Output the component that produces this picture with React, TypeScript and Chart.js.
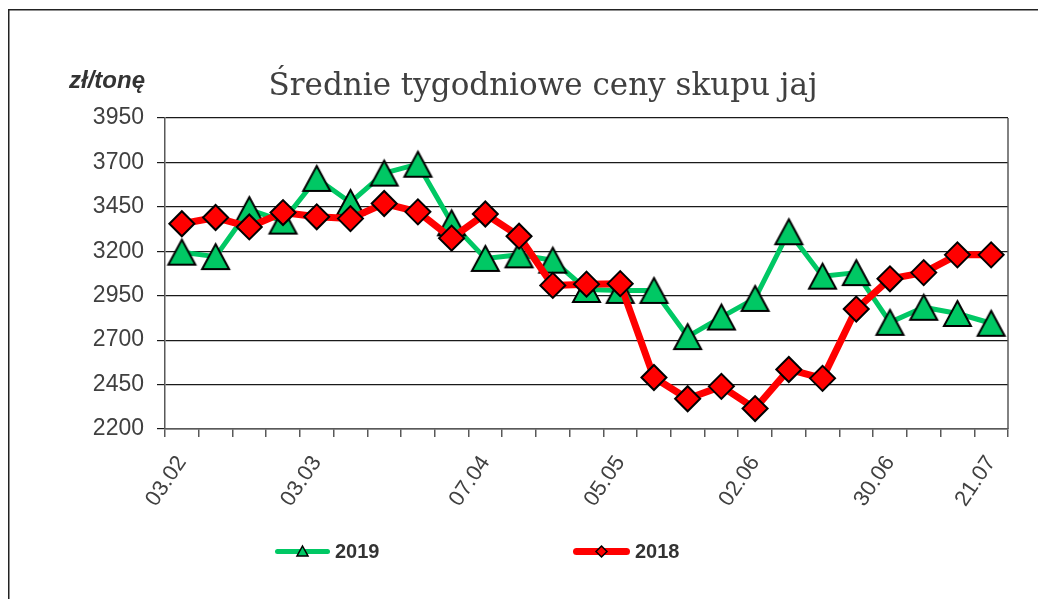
import React, { useEffect, useRef } from 'react';
import { Chart, registerables } from 'chart.js';

Chart.register(...registerables);

// ---- data ----
const categories = [
  '03.02', '10.02', '17.02', '24.02', '03.03', '10.03', '17.03', '24.03', '31.03',
  '07.04', '14.04', '21.04', '28.04', '05.05', '12.05', '19.05', '26.05', '02.06',
  '09.06', '16.06', '23.06', '30.06', '07.07', '14.07', '21.07',
];
const shownTickLabels = ['03.02', '03.03', '07.04', '05.05', '02.06', '30.06', '21.07'];
const values2019 = [
  3195, 3170, 3435, 3370, 3610, 3475, 3640, 3690, 3360, 3160, 3180, 3150, 2985,
  2980, 2980, 2720, 2830, 2935, 3310, 3060, 3080, 2800, 2885, 2850, 2795,
];
const values2018 = [
  3355, 3390, 3337, 3418, 3394, 3384, 3469, 3422, 3274, 3410, 3285, 3008, 3015,
  3018, 2490, 2370, 2440, 2315, 2535, 2485, 2875, 3045, 3080, 3180, 3180,
];
const yMin = 2200;
const yMax = 3950;
const yStep = 250;
const titleText = 'Średnie tygodniowe ceny skupu jaj';
const unitText = 'zł/tonę';
const seriesLabels = ['2019', '2018'];

const GREEN = '#00C864';
const RED = '#FF0000';
const SANS = "'Liberation Sans', Arial, sans-serif";

function makeTriangle(w: number, h: number, fill: string, lw: number) {
  const c = document.createElement('canvas');
  const pad = lw + 1;
  c.width = w + pad * 2;
  c.height = h + pad * 2;
  const ctx = c.getContext('2d')!;
  ctx.beginPath();
  ctx.moveTo(pad + w / 2, pad);
  ctx.lineTo(pad + w, pad + h);
  ctx.lineTo(pad, pad + h);
  ctx.closePath();
  ctx.fillStyle = fill;
  ctx.fill();
  ctx.lineWidth = lw;
  ctx.lineJoin = 'miter';
  ctx.strokeStyle = '#000';
  ctx.stroke();
  return c;
}

export default function App() {
  const ref = useRef<HTMLCanvasElement>(null);

  useEffect(() => {
    if (!ref.current) return;
    const tri = makeTriangle(27, 25, GREEN, 2);

    const decor = {
      id: 'decor',
      beforeDatasetsDraw(chart: any) {
        const { ctx, chartArea } = chart;
        ctx.save();
        ctx.strokeStyle = '#595959';
        ctx.lineWidth = 1.5;
        ctx.beginPath();
        ctx.moveTo(chartArea.right, chartArea.top);
        ctx.lineTo(chartArea.right, chartArea.bottom);
        ctx.stroke();
        ctx.restore();
      },
      afterDraw(chart: any) {
        const { ctx, width, height } = chart;
        ctx.save();
        // frame
        ctx.strokeStyle = '#222';
        ctx.lineWidth = 1.5;
        ctx.beginPath();
        ctx.moveTo(8.75, height);
        ctx.lineTo(8.75, 9.75);
        ctx.lineTo(width, 9.75);
        ctx.stroke();

        // title
        ctx.fillStyle = '#404040';
        ctx.font = "31px 'DejaVu Serif'";
        ctx.textAlign = 'center';
        ctx.textBaseline = 'alphabetic';
        ctx.fillText(titleText, 543, 95);

        // unit label
        ctx.fillStyle = '#333';
        ctx.font = `italic bold 24px ${SANS}`;
        ctx.textAlign = 'right';
        ctx.fillText(unitText, 145, 88);

        // legend
        const ly = 551.5;
        const items = [
          { x0: 275, x1: 330, color: GREEN, lw: 5, kind: 'tri', tx: 335 },
          { x0: 573, x1: 630, color: RED, lw: 7, kind: 'dia', tx: 635 },
        ];
        items.forEach((it, i) => {
          ctx.strokeStyle = it.color;
          ctx.lineWidth = it.lw;
          ctx.lineCap = 'round';
          ctx.beginPath();
          ctx.moveTo(it.x0 + it.lw / 2, ly);
          ctx.lineTo(it.x1 - it.lw / 2, ly);
          ctx.stroke();
          const cx = (it.x0 + it.x1) / 2;
          ctx.lineWidth = 1.5;
          ctx.strokeStyle = '#000';
          ctx.fillStyle = it.color;
          ctx.beginPath();
          if (it.kind === 'tri') {
            ctx.moveTo(cx, ly - 5.5);
            ctx.lineTo(cx + 5.5, ly + 4.5);
            ctx.lineTo(cx - 5.5, ly + 4.5);
          } else {
            ctx.moveTo(cx, ly - 5.5);
            ctx.lineTo(cx + 5.5, ly);
            ctx.lineTo(cx, ly + 5.5);
            ctx.lineTo(cx - 5.5, ly);
          }
          ctx.closePath();
          ctx.fill();
          ctx.stroke();
          ctx.fillStyle = '#333';
          ctx.font = `bold 20px ${SANS}`;
          ctx.textAlign = 'left';
          ctx.textBaseline = 'middle';
          ctx.fillText(seriesLabels[i], it.tx, ly + 1);
        });
        ctx.restore();
      },
    };

    const chart = new Chart(ref.current, {
      type: 'line',
      data: {
        labels: categories,
        datasets: [
          {
            label: seriesLabels[0],
            data: values2019,
            borderColor: GREEN,
            borderWidth: 5,
            backgroundColor: GREEN,
            pointStyle: tri as any,
            pointRadius: 14,
            pointHoverRadius: 14,
            borderJoinStyle: 'round',
            borderCapStyle: 'round',
            tension: 0,
            order: 1,
          },
          {
            label: seriesLabels[1],
            data: values2018,
            borderColor: RED,
            borderWidth: 7,
            backgroundColor: RED,
            pointStyle: 'rectRot',
            pointRadius: 12.5,
            pointHoverRadius: 12.5,
            pointBackgroundColor: RED,
            pointBorderColor: '#000',
            pointBorderWidth: 2,
            borderJoinStyle: 'round',
            borderCapStyle: 'round',
            tension: 0,
            order: 0,
          },
        ],
      },
      options: {
        responsive: true,
        maintainAspectRatio: false,
        animation: false,
        events: [],
        layout: { padding: { left: 0, top: 118, right: 30, bottom: 0 } },
        plugins: {
          legend: { display: false },
          title: { display: false },
          tooltip: { enabled: false },
        },
        scales: {
          x: {
            type: 'category',
            offset: true,
            grid: {
              display: true,
              offset: true,
              drawOnChartArea: false,
              drawTicks: true,
              tickLength: 8,
              color: '#595959',
              lineWidth: 1.5,
            },
            border: { display: true, color: '#595959', width: 1.5 },
            ticks: {
              autoSkip: false,
              minRotation: 56,
              maxRotation: 56,
              padding: 14,
              color: '#404040',
              font: { family: SANS, size: 22 },
              callback: (_v: any, i: number) =>
                shownTickLabels.includes(categories[i]) ? categories[i] : '',
            },
            afterFit: (s: any) => {
              s.height = 170;
            },
          },
          y: {
            min: yMin,
            max: yMax,
            ticks: {
              stepSize: yStep,
              padding: 13,
              color: '#404040',
              font: { family: SANS, size: 23 },
              callback: (v: any) => String(v),
            },
            grid: { color: '#1a1a1a', lineWidth: 1.2, tickLength: 8, drawTicks: true },
            border: { display: true, color: '#595959', width: 1.5 },
            afterFit: (s: any) => {
              s.width = 165;
            },
          },
        },
      },
      plugins: [decor],
    } as any);

    return () => chart.destroy();
  }, []);

  return (
    <div style={{ position: 'fixed', left: 0, top: 0, width: 1038, height: 599, background: '#fff' }}>
      <canvas ref={ref} />
    </div>
  );
}
